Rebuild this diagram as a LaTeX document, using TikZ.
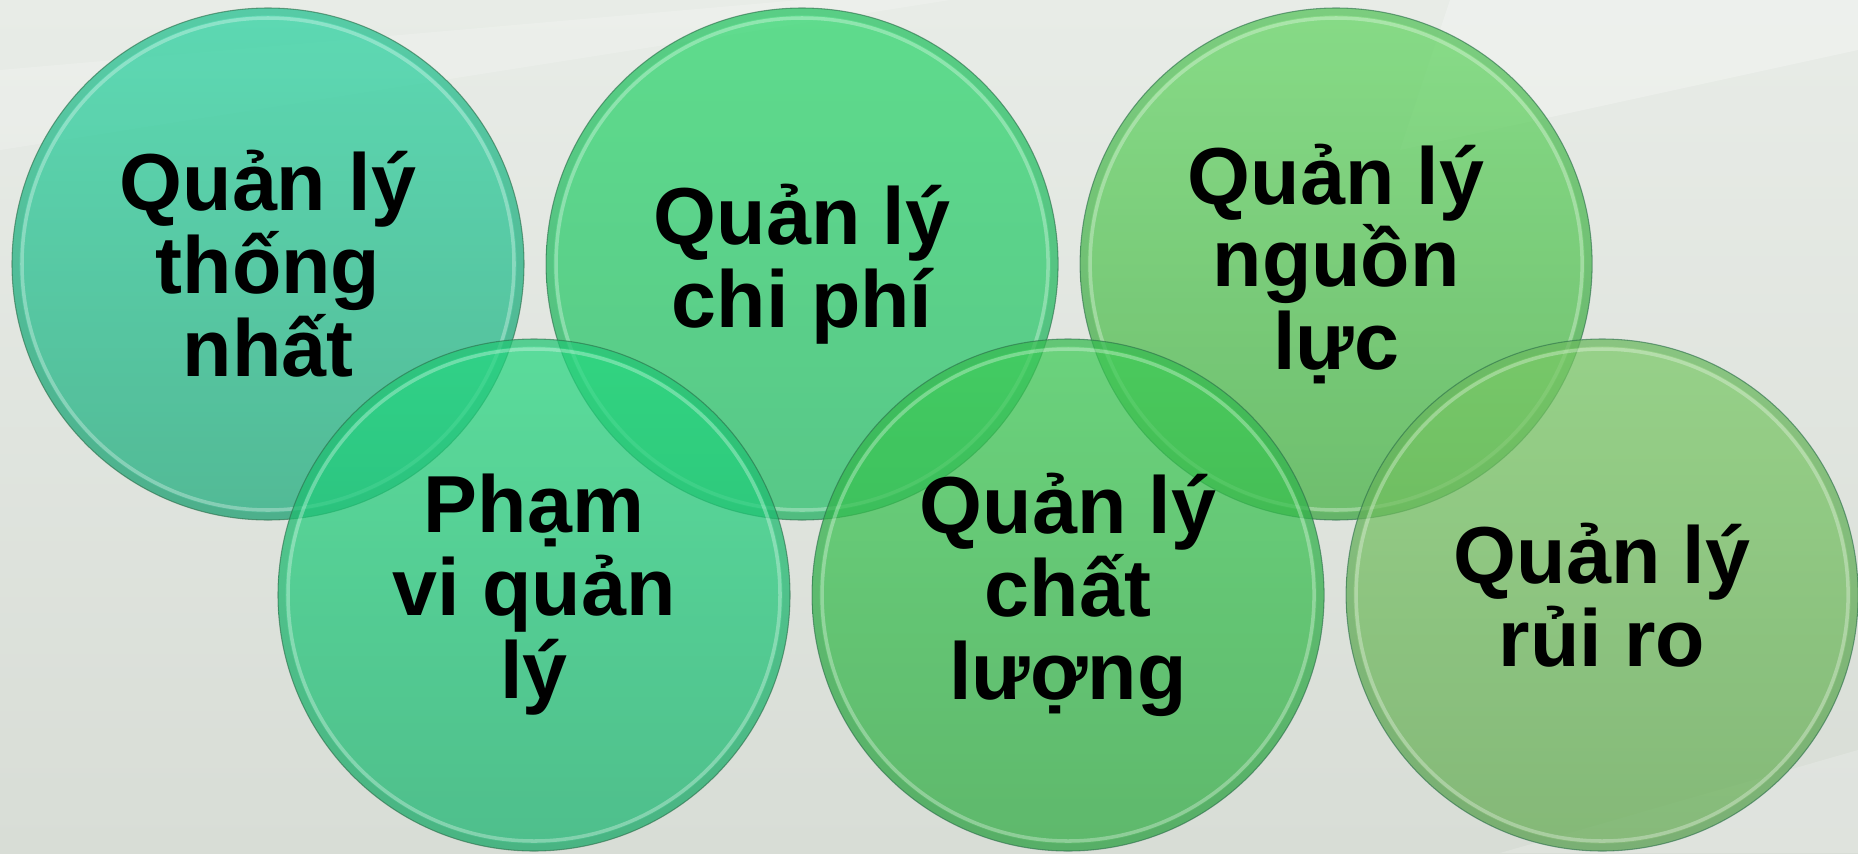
\documentclass[tikz,border=0pt]{standalone}
\usepackage{fontspec}
\setmainfont{Liberation Sans}
\usepackage{tikz}
\usetikzlibrary{
    calc,
    positioning
}
\definecolor{bgtop}{HTML}{E8ECE7}
\definecolor{bgbottom}{HTML}{D8DDD6}
\definecolor{rimdark}{HTML}{2B6E4A}
\definecolor{tealtop}{RGB}{34,209,157}
\definecolor{tealbottom}{RGB}{23,169,120}
\definecolor{jadetop}{RGB}{37,213,103}
\definecolor{jadebottom}{RGB}{31,188,100}
\definecolor{leaftop}{RGB}{94,212,94}
\definecolor{leafbottom}{RGB}{63,175,63}
\definecolor{minttop}{RGB}{34,216,126}
\definecolor{mintbottom}{RGB}{20,178,109}
\definecolor{grasstop}{RGB}{57,203,83}
\definecolor{grassbottom}{RGB}{43,169,63}
\definecolor{sagetop}{RGB}{120,201,100}
\definecolor{sagebottom}{RGB}{97,169,80}
\tikzstyle{bubble}=[
    circle,
    minimum size=10.24cm,
    inner sep=0pt,
    align=center,
    draw=rimdark,
    draw opacity=0.6,
    line width=0.6pt,
    fill opacity=0.7,
    text opacity=1,
    font=\fontsize{46}{47.2}\selectfont\bfseries,
    path picture={
        \draw[rimdark,opacity=0.12,line width=5pt]
            (path picture bounding box.center) circle (5.06cm);
        \draw[white,opacity=0.3,line width=2pt]
            (path picture bounding box.center) circle (4.92cm);
    }
]
\tikzstyle{streak}=[white,opacity=0.25]

\begin{document}
\begin{tikzpicture}
\useasboundingbox (0,0) rectangle (37.16,-17.06);
% background
\shade[top color=bgtop,bottom color=bgbottom] (0,0) rectangle (37.16,-17.06);
\fill[streak] (29,0) -- (37.16,0) -- (37.16,-1.0) -- (28,-3.0) -- cycle;
\fill[streak,opacity=0.18] (0,-1.4) -- (16,0) -- (19,0) -- (0,-3.0) -- cycle;
\fill[streak,opacity=0.18] (30,-17.06) -- (37.16,-15.0) -- (37.16,-17.06) -- cycle;

% top row
\node[bubble,top color=tealtop,bottom color=tealbottom] (thongnhat) at (5.36,-5.28)
    {Quản lý\\thống\\nhất};
\node[bubble,top color=jadetop,bottom color=jadebottom,right=0.42cm of thongnhat] (chiphi)
    {Quản lý\\chi phí};
\node[bubble,top color=leaftop,bottom color=leafbottom,right=0.42cm of chiphi] (nguonluc)
    {Quản lý\\nguồn\\lực};

% bottom row
\node[bubble,top color=minttop,bottom color=mintbottom] (phamvi) at (10.68,-11.9)
    {Phạm\\vi quản\\lý};
\node[bubble,top color=grasstop,bottom color=grassbottom,right=0.42cm of phamvi] (chatluong)
    {Quản lý\\chất\\lượng};
\node[bubble,top color=sagetop,bottom color=sagebottom,right=0.42cm of chatluong] (ruiro)
    {Quản lý\\rủi ro};
\end{tikzpicture}
\end{document}
